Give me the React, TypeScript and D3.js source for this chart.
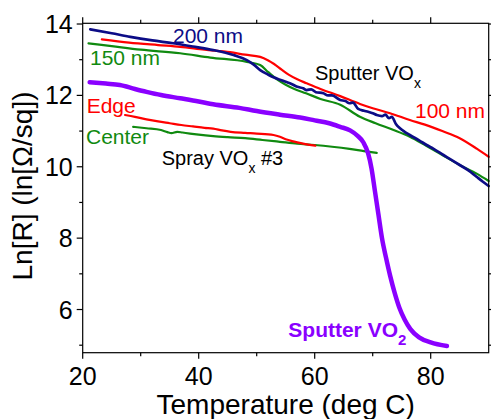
import React from 'react';
import * as d3 from 'd3';

type Pt = [number, number];

// Sputter VOx 200 nm (navy)
const sputter200: Pt[] = [
  [21.3, 13.85], [25, 13.74], [28.2, 13.64], [32, 13.54], [35.6, 13.46], [39, 13.37], [42.5, 13.27],
  [46, 13.13], [48.3, 12.99], [49.5, 12.86], [50.6, 12.71], [52, 12.58], [53, 12.5], [54, 12.44],
  [55, 12.38], [56, 12.32], [57, 12.24], [58, 12.2], [58.6, 12.15], [59.4, 12.17], [60.2, 12.09],
  [61.5, 12.06], [62.3, 12.0], [63, 12.0], [64.4, 11.87], [65.3, 11.84], [66, 11.78], [66.6, 11.8],
  [67.5, 11.62], [68.5, 11.57], [69.2, 11.54], [70, 11.5], [70.7, 11.45], [71.6, 11.42], [72.2, 11.46],
  [72.8, 11.36], [73.3, 11.4], [74, 11.2], [74.7, 11.08], [75.5, 10.98], [76.4, 10.89], [78, 10.74],
  [79.3, 10.61], [80.5, 10.5], [82.2, 10.33], [83.5, 10.2], [85, 10.05], [86.5, 9.9], [87.9, 9.72],
  [89, 9.58], [90, 9.46],
];

// Sputter VOx 100 nm (red)
const sputter100: Pt[] = [
  [23.3, 13.57], [28, 13.48], [33, 13.41], [36.8, 13.36], [41, 13.28], [45.4, 13.21], [48, 13.14],
  [50.6, 13.08], [52, 12.98], [53, 12.88], [54.3, 12.72], [55.5, 12.58], [57, 12.45], [58.6, 12.34],
  [61, 12.18], [64.4, 11.98], [67.8, 11.76], [70, 11.64], [73, 11.5], [76.4, 11.31], [79, 11.18],
  [82, 11.0], [85, 10.8], [88, 10.5], [90, 10.28],
];

// Sputter VOx 150 nm (green)
const sputter150: Pt[] = [
  [21, 13.46], [25, 13.38], [30, 13.28], [36.8, 13.18], [42, 13.06], [48.3, 12.94], [50.6, 12.85],
  [52, 12.65], [53.5, 12.45], [55, 12.3], [56.5, 12.18], [58.5, 12.06], [61, 11.9], [64.4, 11.74],
  [67.8, 11.4], [70.5, 11.22], [73.6, 11.03], [76.4, 10.84], [79.3, 10.58], [82, 10.33], [85, 10.05],
  [88, 9.8], [90, 9.6],
];

// Sputter VO2 (purple)
const sputterVO2: Pt[] = [
  [21.2, 12.37], [24, 12.33], [26.4, 12.29], [29, 12.18], [31, 12.1], [33.5, 12.01], [36.8, 11.92],
  [40, 11.83], [42.5, 11.75], [47, 11.65], [50, 11.56], [54, 11.46], [57.5, 11.38], [60, 11.3],
  [62.5, 11.22], [64.4, 11.12], [66.1, 11.02], [67.3, 10.88], [68.4, 10.68], [69.2, 10.38],
  [69.8, 9.95], [70.4, 9.3], [71, 8.65], [71.6, 8.0], [72.3, 7.45], [73, 6.95], [73.8, 6.46],
  [74.6, 6.05], [75.5, 5.72], [76.5, 5.45], [78, 5.22], [80, 5.08], [82.8, 4.98],
];

// Spray VOx #3 edge (red)
const sprayEdge: Pt[] = [
  [27.3, 11.45], [29, 11.4], [31, 11.33], [33, 11.27], [35, 11.22], [37, 11.17], [39, 11.13],
  [41, 11.09], [42.5, 11.07], [44, 11.02], [45.5, 10.98], [48, 10.95], [50, 10.93], [52.9, 10.89],
  [54, 10.84], [55, 10.77], [56.3, 10.71], [58, 10.65], [60.1, 10.59],
];

// Spray VOx #3 center (green)
const sprayCenter: Pt[] = [
  [28.7, 11.12], [31, 11.08], [33.5, 11.03], [34.6, 10.97], [35.3, 10.94], [36.3, 10.98],
  [37.2, 10.96], [38.5, 10.93], [40, 10.9], [42.5, 10.86], [45, 10.83], [48, 10.8], [51, 10.75],
  [54, 10.7], [57, 10.65], [60, 10.61], [63, 10.56], [66, 10.5], [68.5, 10.44], [70.7, 10.39],
];

const xTicks = [20, 40, 60, 80];
const xMinorTicks = [30, 50, 70];
const yTicks = [6, 8, 10, 12, 14];
const yMinorTicks = [5, 7, 9, 11, 13];

const NAVY = '#0c0c86';
const RED = '#ff0000';
const GREEN = '#108a10';
const PURPLE = '#8a00ff';

const FONT = "Arial, 'Liberation Sans', sans-serif";

const App: React.FC = () => {
  const W = 491;
  const H = 419;
  const left = 82.7;
  const right = 488.7;
  const top = 23.3;
  const bottom = 352.7;

  const x = d3.scaleLinear().domain([20, 90]).range([left, right]);
  const y = d3.scaleLinear().domain([4.79, 14.02]).range([bottom, top]);

  const line = d3
    .line<Pt>()
    .x((d) => x(d[0]))
    .y((d) => y(d[1]))
    .curve(d3.curveMonotoneX);

  const series = [
    { data: sprayCenter, color: GREEN, w: 2.2 },
    { data: sprayEdge, color: RED, w: 2.2 },
    { data: sputter150, color: GREEN, w: 2.2 },
    { data: sputter100, color: RED, w: 2.2 },
    { data: sputter200, color: NAVY, w: 2.7 },
    { data: sputterVO2, color: PURPLE, w: 4.5 },
  ];

  const major = 6;
  const minor = 3.5;

  return (
    <svg width={W} height={H} style={{ position: 'absolute', left: 0, top: 0 }} fontFamily={FONT}>
      <rect width={W} height={H} fill="#fff" />
      {series.map((s, i) => (
        <path key={i} d={line(s.data) ?? ''} fill="none" stroke={s.color} strokeWidth={s.w} strokeLinejoin="round" strokeLinecap="round" />
      ))}

      {/* frame */}
      <rect x={left} y={top} width={right - left} height={bottom - top} fill="none" stroke="#000" strokeWidth={1.2} />

      {/* x ticks bottom and top */}
      {xTicks.map((t) => (
        <g key={'xt' + t}>
          <line x1={x(t)} x2={x(t)} y1={bottom} y2={bottom + major} stroke="#000" strokeWidth={1.2} />
          <line x1={x(t)} x2={x(t)} y1={top} y2={top - major} stroke="#000" strokeWidth={1.2} />
          <text x={x(t)} y={bottom + 32} textAnchor="middle" fontSize={25}>{t}</text>
        </g>
      ))}
      {xMinorTicks.map((t) => (
        <g key={'xm' + t}>
          <line x1={x(t)} x2={x(t)} y1={bottom} y2={bottom + minor} stroke="#000" strokeWidth={1.2} />
          <line x1={x(t)} x2={x(t)} y1={top} y2={top - minor} stroke="#000" strokeWidth={1.2} />
        </g>
      ))}

      {/* y ticks left and right */}
      {yTicks.map((t) => (
        <g key={'yt' + t}>
          <line x1={left} x2={left - major} y1={y(t)} y2={y(t)} stroke="#000" strokeWidth={1.2} />
          <line x1={right} x2={right + major} y1={y(t)} y2={y(t)} stroke="#000" strokeWidth={1.2} />
          <text x={left - 10} y={y(t)} dy="0.36em" textAnchor="end" fontSize={25}>{t}</text>
        </g>
      ))}
      {yMinorTicks.map((t) => (
        <g key={'ym' + t}>
          <line x1={left} x2={left - minor} y1={y(t)} y2={y(t)} stroke="#000" strokeWidth={1.2} />
          <line x1={right} x2={right + minor} y1={y(t)} y2={y(t)} stroke="#000" strokeWidth={1.2} />
        </g>
      ))}

      {/* axis titles */}
      <text x={(left + right) / 2} y={414} textAnchor="middle" fontSize={28}>Temperature (deg C)</text>
      <text transform={`translate(32,${(top + bottom) / 2 - 2}) rotate(-90)`} textAnchor="middle" fontSize={28}>
        Ln[R] (ln[Ω/sq])
      </text>

      {/* annotations */}
      <text x={x(35.57)} y={y(13.46)} fontSize={21} fill={NAVY}>200 nm</text>
      <text x={x(21.26)} y={y(12.85)} fontSize={21} fill={GREEN}>150 nm</text>
      <text x={x(20.69)} y={y(11.5)} fontSize={21} fill={RED}>Edge</text>
      <text x={x(20.57)} y={y(10.64)} fontSize={21} fill={GREEN}>Center</text>
      <text x={x(33.62)} y={y(10.05)} fontSize={20} fill="#000">
        Spray VO<tspan fontSize={14} dy={8}>x</tspan><tspan dy={-8}> #3</tspan>
      </text>
      <text x={x(60.05)} y={y(12.43)} fontSize={20} fill="#000">
        Sputter VO<tspan fontSize={14} dy={8}>x</tspan>
      </text>
      <text x={x(77.29)} y={y(11.37)} fontSize={21} fill={RED}>100 nm</text>
      <text x={x(55.45)} y={y(5.23)} fontSize={21} fontWeight="bold" fill={PURPLE}>
        Sputter VO<tspan fontSize={15} dy={8}>2</tspan>
      </text>
    </svg>
  );
};

export default App;
